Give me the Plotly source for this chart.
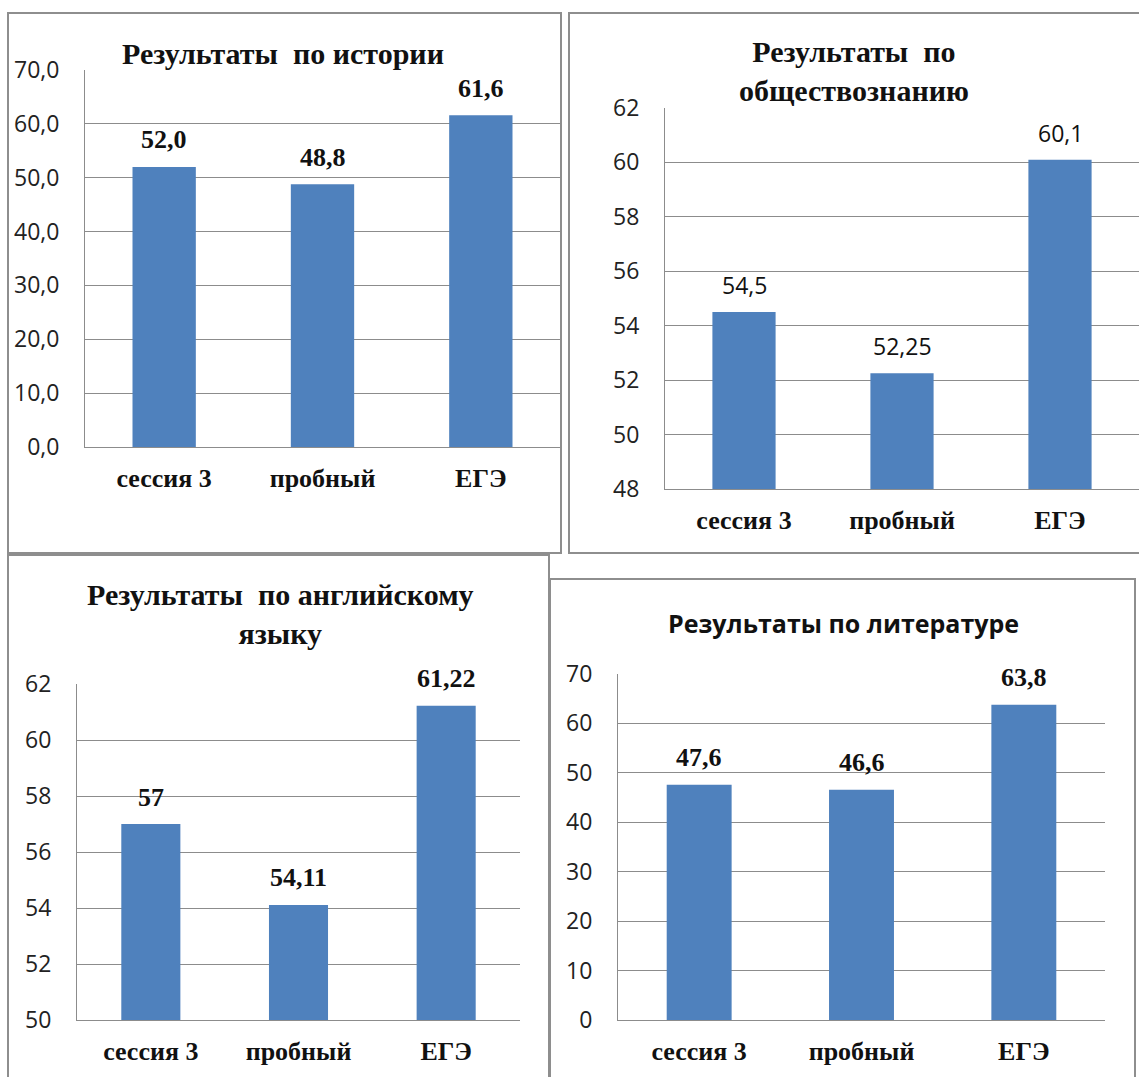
import plotly.graph_objects as go

W, H = 1139, 1077

categories = ["сессия 3", "пробный", "ЕГЭ"]
history = [52.0, 48.8, 61.6]
social = [54.5, 52.25, 60.1]
english = [57, 54.11, 61.22]
literature = [47.6, 46.6, 63.8]

history_ticks = [0, 10, 20, 30, 40, 50, 60, 70]
social_ticks = [48, 50, 52, 54, 56, 58, 60, 62]
english_ticks = [50, 52, 54, 56, 58, 60, 62]
literature_ticks = [0, 10, 20, 30, 40, 50, 60, 70]

BAR = "#4F81BD"
GRID = "#8C8C8C"
BORDER = "#8E8E8E"
SERIF = "Liberation Serif"
SANS = "Open Sans"


def px_x(v):
    return v / W


def px_y(v):
    return 1 - v / H


def fmt1(v):
    return f"{v:.1f}".replace(".", ",")


def fmtg(v):
    return f"{v:g}".replace(".", ",")


panels = [
    dict(vals=history, ticks=history_ticks, tickfmt=".1f", x=(85, 560), y=(447, 70),
         title="<b>Результаты  по истории</b>", tx=283, ty=53, tfont=(SERIF, 30),
         lab=fmt1, lfont=(SERIF, 26, True)),
    dict(vals=social, ticks=social_ticks, tickfmt="d", x=(665, 1139), y=(489, 108),
         title="<b>Результаты  по<br>обществознанию</b>", tx=854, ty=71, tfont=(SERIF, 30),
         lab=fmtg, lfont=(SANS, 23, False)),
    dict(vals=english, ticks=english_ticks, tickfmt="d", x=(77, 520), y=(1020, 684),
         title="<b>Результаты  по английскому<br>языку</b>", tx=280, ty=614, tfont=(SERIF, 30),
         lab=fmtg, lfont=(SERIF, 26, True)),
    dict(vals=literature, ticks=literature_ticks, tickfmt="d", x=(618, 1105), y=(1020, 674),
         title="<b>Результаты по литературе</b>", tx=843, ty=623, tfont=(SANS, 25),
         lab=fmtg, lfont=(SERIF, 26, True)),
]

fig = go.Figure()
annotations = []
layout_axes = {}

for i, p in enumerate(panels, start=1):
    xa = "x" if i == 1 else f"x{i}"
    ya = "y" if i == 1 else f"y{i}"
    fig.add_trace(go.Bar(x=categories, y=p["vals"], xaxis=xa, yaxis=ya,
                         marker=dict(color=BAR, line=dict(width=0)),
                         showlegend=False, hoverinfo="skip"))
    lo, hi = p["ticks"][0], p["ticks"][-1]
    layout_axes[f"xaxis{'' if i == 1 else i}"] = dict(
        domain=[px_x(p["x"][0]), px_x(p["x"][1])], anchor=ya,
        showgrid=False, showline=True, linecolor=GRID, linewidth=1,
        ticks="", ticklabelstandoff=8,
        tickfont=dict(family=SERIF, size=26, color="#111111", weight="bold"),
        fixedrange=True,
    )
    layout_axes[f"yaxis{'' if i == 1 else i}"] = dict(
        domain=[px_y(p["y"][0]), px_y(p["y"][1])], anchor=xa,
        range=[lo, hi], tickvals=p["ticks"], tickformat=p["tickfmt"],
        showgrid=True, gridcolor=GRID, gridwidth=1, zeroline=False,
        showline=True, linecolor=GRID, linewidth=1, ticks="", ticklabelstandoff=20,
        tickfont=dict(family=SANS, size=23, color="#222222"),
        fixedrange=True,
    )
    fam, size, bold = p["lfont"]
    for c, v in zip(categories, p["vals"]):
        annotations.append(dict(
            x=c, y=v, xref=xa, yref=ya, yanchor="middle", yshift=27, showarrow=False,
            text=p["lab"](v),
            font=dict(family=fam, size=size, color="#111111", weight="bold" if bold else "normal"),
        ))
    tf, ts = p["tfont"]
    annotations.append(dict(
        x=px_x(p["tx"]), y=px_y(p["ty"]), xref="paper", yref="paper",
        xanchor="center", yanchor="middle", showarrow=False, text=p["title"],
        font=dict(family=tf, size=ts, color="#111111", weight="bold"),
    ))

shapes = []


def rect(x0, y0, x1, y1):
    shapes.append(dict(type="rect", xref="paper", yref="paper",
                       x0=px_x(x0), x1=px_x(x1), y0=px_y(y1), y1=px_y(y0),
                       line=dict(color=BORDER, width=2), fillcolor="rgba(0,0,0,0)", layer="below"))


rect(8, 13, 561, 553)
rect(569, 13, 1150, 553)
rect(8, 555, 549, 1090)
rect(550, 579, 1135, 1090)

fig.update_layout(
    width=W, height=H,
    margin=dict(l=0, r=0, t=0, b=0, autoexpand=False),
    paper_bgcolor="white", plot_bgcolor="white",
    separators=", ",
    bargap=0.6,
    annotations=annotations,
    shapes=shapes,
    **layout_axes,
)

fig.write_html("out.html", config={"displayModeBar": False},
               post_script="document.body.style.margin='0px';")
